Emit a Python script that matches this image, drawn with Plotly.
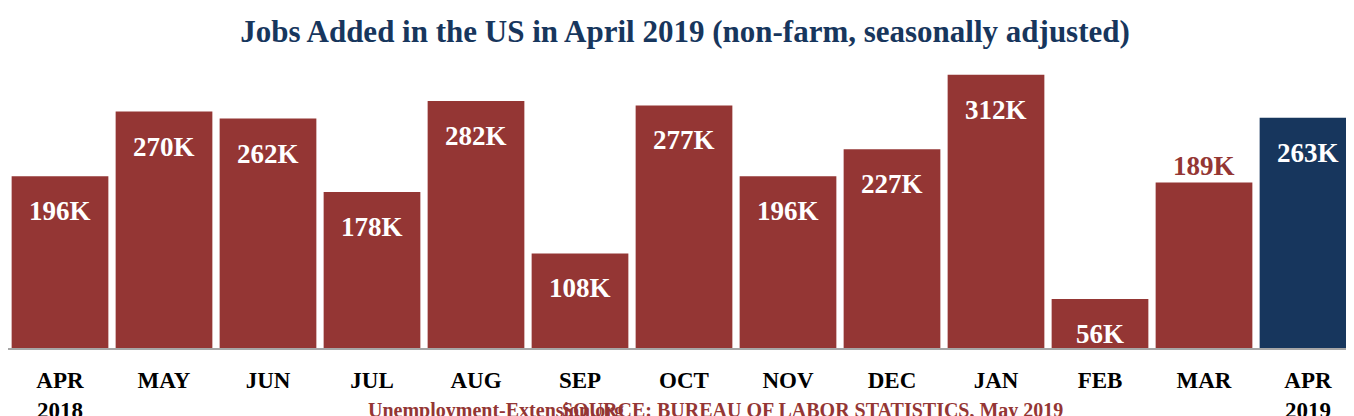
import plotly.graph_objects as go

months = ["APR<br>2018", "MAY", "JUN", "JUL", "AUG", "SEP", "OCT", "NOV", "DEC", "JAN", "FEB", "MAR", "APR<br>2019"]
jobs = [196, 270, 262, 178, 282, 108, 277, 196, 227, 312, 56, 189, 263]
labels = [f"{v}K" for v in jobs]

red = "#943634"
navy = "#17365D"
colors = [red] * 12 + [navy]
font = "Liberation Serif, DejaVu Serif, serif"

fig = go.Figure(go.Bar(x=months, y=jobs, marker_color=colors, marker_line_width=0))

for i, (m, v, t) in enumerate(zip(months, jobs, labels)):
    outside = m == "MAR"
    fig.add_annotation(
        x=m, y=v, text=f"<b>{t}</b>", showarrow=False,
        yshift=16 if outside else -35,
        font=dict(family=font, size=27, color=red if outside else "white"),
    )

fig.add_annotation(x=0.265, y=-0.27, xref="paper", yref="paper", showarrow=False,
                   text="<b>Unemployment-Extension.org</b>",
                   font=dict(family=font, size=20, color=red))
fig.add_annotation(x=0.595, y=-0.27, xref="paper", yref="paper", showarrow=False,
                   text="<b>SOURCE: BUREAU OF LABOR STATISTICS, May 2019</b>",
                   font=dict(family=font, size=20, color=red))

fig.update_layout(
    width=1354, height=416,
    margin=dict(l=0, r=2, t=58, b=76),
    paper_bgcolor="white", plot_bgcolor="white",
    bargap=0.07, showlegend=False,
    title=dict(text="<b>Jobs Added in the US in April 2019 (non-farm, seasonally adjusted)</b>",
               x=0.5, y=0.97, yanchor="top", xanchor="center",
               font=dict(family=font, size=31, color="#17365D")),
    xaxis=dict(showline=True, linecolor="#a6a6a6", linewidth=2, ticks="",
               tickfont=dict(family=font, size=23, color="black")),
    yaxis=dict(visible=False, range=[0, 322]),
)
fig.update_xaxes(ticklabelstandoff=10)
fig.update_xaxes(tickprefix="<b>", ticksuffix="</b>")

fig.write_html("out.html")
